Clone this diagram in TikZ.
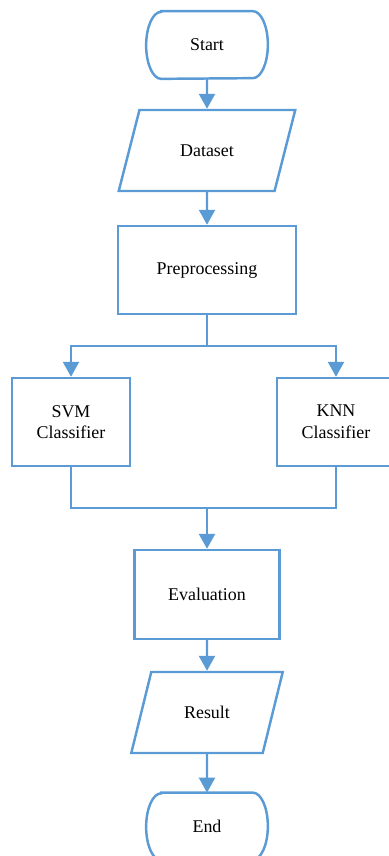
\documentclass[tikz,border=0pt]{standalone}
\usepackage{fontspec}
\setmainfont{Liberation Serif}
\usetikzlibrary{arrows.meta,shapes.geometric}
\definecolor{flowBlue}{HTML}{5B9BD5}
\tikzstyle{terminal} = [rectangle, minimum width = 2.42cm, minimum height = 1.34cm, text centered]
\tikzstyle{io} = [trapezium, trapezium left angle = 67, trapezium right angle = 113, trapezium stretches = true, draw = flowBlue, line width = 1.4pt, minimum height = 1.62cm, text centered]
\tikzstyle{process} = [rectangle, draw = flowBlue, line width = 1.4pt, minimum height = 1.76cm, align = center]
\tikzstyle{line} = [draw = flowBlue, line width = 1.4pt, -{Triangle[width = 0.32cm, length = 0.30cm]}]
\tikzstyle{plainline} = [draw = flowBlue, line width = 1.4pt]
% outline of a start/end node, with elliptic ends
\newcommand{\terminalOutline}[1]{%
    \draw[plainline] ([xshift = 0.3cm]#1.north west) -- ([xshift = -0.3cm]#1.north east)
        arc[start angle = 90, end angle = -90, x radius = 0.3cm, y radius = 0.67cm]
        -- ([xshift = 0.3cm]#1.south west)
        arc[start angle = 270, end angle = 90, x radius = 0.3cm, y radius = 0.67cm] -- cycle;}

\begin{document}
\begin{tikzpicture}[font = \fontsize{10.2}{12.3}\selectfont]
        \useasboundingbox (0,0) rectangle (7.76,-17.12);
        \node(Start) [terminal] at (4.14,-0.90) {Start};
        \node(Dataset) [io, minimum width = 3.54cm] at (4.14,-3.01) {Dataset};
        \node(Pre) [process, minimum width = 3.56cm] at (4.14,-5.40) {Preprocessing};
        \node(SVM) [process, minimum width = 2.36cm] at (1.42,-8.44) {SVM\\Classifier};
        \node(KNN) [process, minimum width = 2.36cm] at (6.72,-8.44) {KNN\\Classifier};
        \node(Eval) [process, minimum width = 2.90cm, minimum height = 1.78cm] at (4.14,-11.89) {Evaluation};
        \node(Result) [io, minimum width = 3.04cm] at (4.14,-14.25) {Result};
        \node(End) [terminal] at (4.14,-16.53) {End};
        \terminalOutline{Start}
        \terminalOutline{End}
        \coordinate(split) at (4.14,-6.92);
        \coordinate(merge) at (4.14,-10.16);
        \draw[line] (Start) -- (Dataset);
        \draw[line] (Dataset) -- (Pre);
        \draw[plainline] (Pre) -- (split);
        \draw[line] (split) -| (SVM);
        \draw[line] (split) -| (KNN);
        \draw[plainline] (SVM) |- (merge);
        \draw[plainline] (KNN) |- (merge);
        \draw[line] (merge) -- (Eval);
        \draw[line] (Eval) -- (Result);
        \draw[line] (Result) -- (End);
    \end{tikzpicture}
\end{document}
